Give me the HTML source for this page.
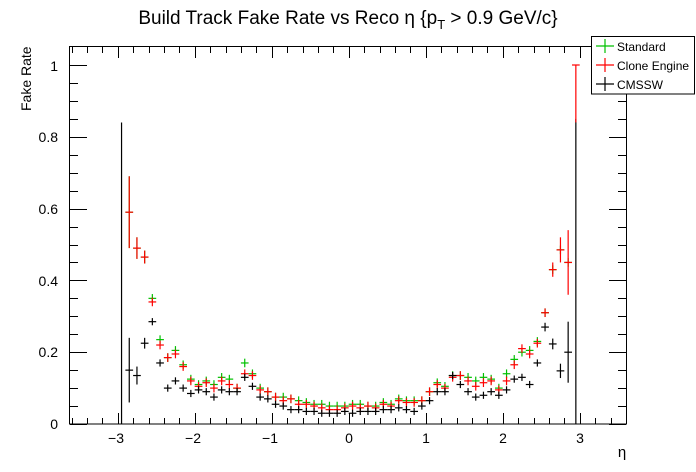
<!DOCTYPE html>
<html><head><meta charset="utf-8"><style>
body{margin:0;background:#fff;}
svg{display:block;font-family:"Liberation Sans",sans-serif;}
</style></head><body>
<svg id="s" width="696" height="472" viewBox="0 0 696 472" xmlns="http://www.w3.org/2000/svg">
<rect width="696" height="472" fill="#fff"/>
<text x="348" y="24" font-size="19" text-anchor="middle">Build Track Fake Rate vs Reco η {p<tspan font-size="13" dy="5">T</tspan><tspan dy="-5"> &gt; 0.9 GeV/c}</tspan></text>
<rect x="69.5" y="46.5" width="557" height="377.5" fill="none" stroke="#000" stroke-width="1"/>
<g id="ticks" stroke="#000" stroke-width="1"></g>
<g font-size="14" text-anchor="end">
<text x="58" y="429">0</text>
<text x="58" y="357">0.2</text>
<text x="58" y="286">0.4</text>
<text x="58" y="214">0.6</text>
<text x="58" y="142">0.8</text>
<text x="58" y="71">1</text>
</g>
<g font-size="14" text-anchor="middle">
<text x="116" y="443">−3</text>
<text x="193" y="443">−2</text>
<text x="270" y="443">−1</text>
<text x="349" y="443">0</text>
<text x="426" y="443">1</text>
<text x="503" y="443">2</text>
<text x="580" y="443">3</text>
</g>
<text x="622" y="457" font-size="15" text-anchor="middle">η</text>
<text transform="translate(31,111) rotate(-90)" font-size="14">Fake Rate</text>
<g id="data"></g>
<rect x="591.5" y="36.5" width="103" height="57.5" fill="#fff" stroke="#000"/>
<g stroke-width="1.2">
<line x1="596" y1="46" x2="614" y2="46" stroke="#00c000"/><line x1="605" y1="39" x2="605" y2="53" stroke="#00c000"/>
<line x1="596" y1="65" x2="614" y2="65" stroke="#f00"/><line x1="605" y1="58" x2="605" y2="72" stroke="#f00"/>
<line x1="596" y1="84" x2="614" y2="84" stroke="#000"/><line x1="605" y1="77" x2="605" y2="91" stroke="#000"/>
</g>
<g font-size="12">
<text x="617" y="51">Standard</text>
<text x="617" y="70">Clone Engine</text>
<text x="617" y="89">CMSSW</text>
</g>
</svg>
<script>
var NS="http://www.w3.org/2000/svg";
function X(e){return 348.7+77*e;}
function Y(v){return 424-359*v;}
function L(g,x1,y1,x2,y2,c,w){var l=document.createElementNS(NS,"line");l.setAttribute("x1",x1);l.setAttribute("y1",y1);l.setAttribute("x2",x2);l.setAttribute("y2",y2);l.setAttribute("stroke",c);l.setAttribute("stroke-width",w||1.2);g.appendChild(l);}
var t=document.getElementById("ticks");
for(var v=0;v<=1.041;v+=0.05){var maj=Math.abs(v*5-Math.round(v*5))<1e-6;var len=maj?17:8;var y=Math.round(Y(v))+0.5;L(t,70,y,70+len,y,"#000",1);L(t,626,y,626-len,y,"#000",1);}
for(var e=-3.6;e<=3.61;e+=0.2){var m=Math.abs(e-Math.round(e))<1e-6;var len=m?11:6;var x=Math.round(X(e))+0.5;if(x<70||x>626)continue;L(t,x,424,x,424-len,"#000",1);L(t,x,47,x,47+len,"#000",1);}
var g=[null,.59,.49,.465,.35,.235,.185,.205,.165,.125,.11,.12,.11,.13,.125,.10,.17,.14,.10,.09,.075,.075,.07,.065,.06,.055,.055,.05,.05,.05,.055,.055,.05,.05,.06,.055,.07,.065,.065,.065,.09,.115,.105,.135,.135,.13,.12,.13,.125,.10,.14,.18,.20,.205,.23,.31,.43,.485,.45,null];
var r=[null,.59,.49,.465,.34,.22,.185,.195,.16,.12,.105,.115,.10,.12,.11,.10,.14,.135,.095,.09,.075,.065,.07,.055,.055,.05,.045,.04,.04,.045,.05,.045,.05,.045,.055,.05,.065,.06,.06,.065,.09,.11,.10,.13,.135,.12,.105,.115,.12,.095,.12,.165,.21,.195,.225,.31,.43,.485,.45,null];
var b=[null,.15,.135,.225,.285,.17,.10,.12,.10,.085,.095,.09,.075,.095,.09,.09,.13,.105,.075,.07,.055,.05,.04,.04,.035,.035,.03,.03,.03,.035,.03,.035,.035,.035,.04,.04,.045,.04,.035,.05,.065,.09,.09,.135,.11,.09,.075,.08,.09,.08,.095,.125,.13,.11,.17,.27,.223,.148,.20,null];
var ge={1:.1,2:.03,3:.018,4:.012};var re={1:.1,2:.03,3:.018,4:.012,56:.02,57:.035,58:.09};var be={1:.09,2:.025,3:.015,55:.012,56:.015,57:.02,58:.085};
var d=document.getElementById("data");
function draw(arr,errs,c,de){for(var i=0;i<60;i++){var v=arr[i];if(v==null)continue;var e=-2.95+0.1*i;var x=X(e);var er=errs[i]||de;L(d,X(e-0.05),Y(v),X(e+0.05),Y(v),c);L(d,x,Y(v-er),x,Y(v+er),c);}}
draw(g,ge,"#00c000",0.012);
draw(r,re,"#f00",0.012);
draw(b,be,"#000",0.01);
L(d,X(-2.95),424,X(-2.95),Y(0.84),"#000");
L(d,X(2.95),424,X(2.95),Y(0.85),"#000");
L(d,X(2.95),Y(0.84),X(2.95),Y(1.0),"#f00");
L(d,X(2.9),Y(1.0),X(3.0),Y(1.0),"#f00");
</script>
</body></html>
